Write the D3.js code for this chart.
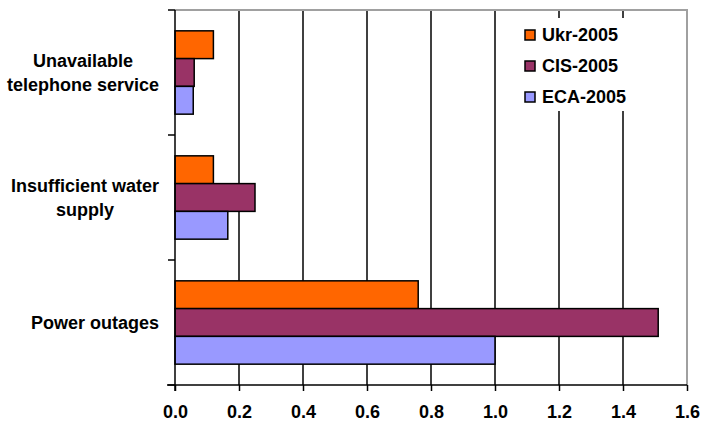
<!DOCTYPE html>
<html>
<head>
<script src="https://d3js.org/d3.v7.min.js"></script>
<style>
  body { margin: 0; background: #fff; }
  text { font-family: Arial, "Liberation Sans", sans-serif; font-weight: bold; }
</style>
</head>
<body>
<svg id="chart" width="702" height="425"></svg>
<script>
// data
const categories = ["Unavailable telephone service", "Insufficient water supply", "Power outages"];
const categoryLines = [["Unavailable", "telephone service"], ["Insufficient water", "supply"], ["Power outages"]];
const series = ["Ukr-2005", "CIS-2005", "ECA-2005"];
const ukr = [0.12, 0.12, 0.76];
const cis = [0.06, 0.25, 1.51];
const eca = [0.057, 0.165, 1.0];
const xTicks = [0, 0.2, 0.4, 0.6, 0.8, 1.0, 1.2, 1.4, 1.6];
const colors = ["#FF6600", "#993366", "#9999FF"];

const values = [ukr, cis, eca];

let svg = d3.select("#chart");
let plotLeft = 175, plotTop = 10, plotRight = 687, plotBottom = 385;

let x = d3.scaleLinear().domain([0, 1.6]).range([plotLeft, plotRight]);
let y = d3.scaleBand().domain(categories).range([plotTop, plotBottom]);
let ys = d3.scaleBand().domain(series).range([0, y.bandwidth()]).paddingOuter(0.75);

// vertical gridlines
svg.append("g")
  .selectAll("line")
  .data(xTicks.slice(1, -1))
  .join("line")
  .attr("x1", d => x(d)).attr("x2", d => x(d))
  .attr("y1", plotTop).attr("y2", plotBottom)
  .style("stroke", "#000").style("stroke-width", 1.5);

// gray frame top + right
svg.append("path")
  .attr("d", `M${plotLeft},${plotTop}H${plotRight}V${plotBottom}`)
  .style("fill", "none").style("stroke", "#a0a0a0").style("stroke-width", 2);

// bars
categories.forEach((c, i) => {
  svg.append("g")
    .selectAll("rect")
    .data(series)
    .join("rect")
    .attr("x", x(0))
    .attr("y", s => y(c) + ys(s))
    .attr("width", (s, j) => x(values[j][i]) - x(0))
    .attr("height", ys.bandwidth())
    .style("fill", (s, j) => colors[j])
    .style("stroke", "#000").style("stroke-width", 1.5);
});

// x axis
let xAxis = svg.append("g")
  .attr("transform", `translate(0,${plotBottom})`)
  .call(d3.axisBottom(x).tickValues(xTicks).tickFormat(d3.format(".1f")).tickSize(6).tickSizeOuter(0));
xAxis.select(".domain").attr("d", `M${plotLeft - 8},0H${plotRight}`).style("stroke", "#000").style("stroke-width", 1.5);
xAxis.selectAll(".tick line").style("stroke", "#000").style("stroke-width", 1.5);
xAxis.selectAll(".tick text").attr("y", 20).style("font-size", "18px").style("fill", "#000");
xAxis.attr("font-family", null).attr("font-size", null);

// y axis line and category ticks
svg.append("line")
  .attr("x1", plotLeft).attr("x2", plotLeft).attr("y1", plotTop).attr("y2", plotBottom + 6)
  .style("stroke", "#000").style("stroke-width", 1.5);
svg.append("g")
  .selectAll("line")
  .data(categories.map(c => y(c)).concat([plotBottom]))
  .join("line")
  .attr("x1", plotLeft - 7).attr("x2", plotLeft)
  .attr("y1", d => d).attr("y2", d => d)
  .style("stroke", "#000").style("stroke-width", 1.5);

// category labels
categories.forEach((c, i) => {
  let lines = categoryLines[i];
  let g = svg.append("g");
  let cy = y(c) + y.bandwidth() / 2;
  let lh = 24;
  let t = g.selectAll("text")
    .data(lines)
    .join("text")
    .attr("y", (d, k) => cy + (k - (lines.length - 1) / 2) * lh)
    .attr("dy", "0.35em")
    .attr("text-anchor", "middle")
    .style("font-size", "18px")
    .text(d => d);
  let w = d3.max(t.nodes(), n => n.getComputedTextLength());
  t.attr("x", 159 - w / 2);
});

// legend
let legend = svg.append("g");
legend.append("rect")
  .attr("x", 508).attr("y", 18).attr("width", 150).attr("height", 93)
  .style("fill", "#fff");
legend.selectAll("g")
  .data(series)
  .join("g")
  .attr("transform", (d, i) => `translate(525,${35 + i * 31})`)
  .each(function(d, i) {
    let g = d3.select(this);
    g.append("rect")
      .attr("x", 0).attr("y", -5).attr("width", 10).attr("height", 10)
      .style("fill", colors[i]).style("stroke", "#000").style("stroke-width", 1.5);
    g.append("text")
      .attr("x", 17).attr("y", 0).attr("dy", "0.35em")
      .style("font-size", "18px")
      .text(d);
  });
</script>
</body>
</html>
